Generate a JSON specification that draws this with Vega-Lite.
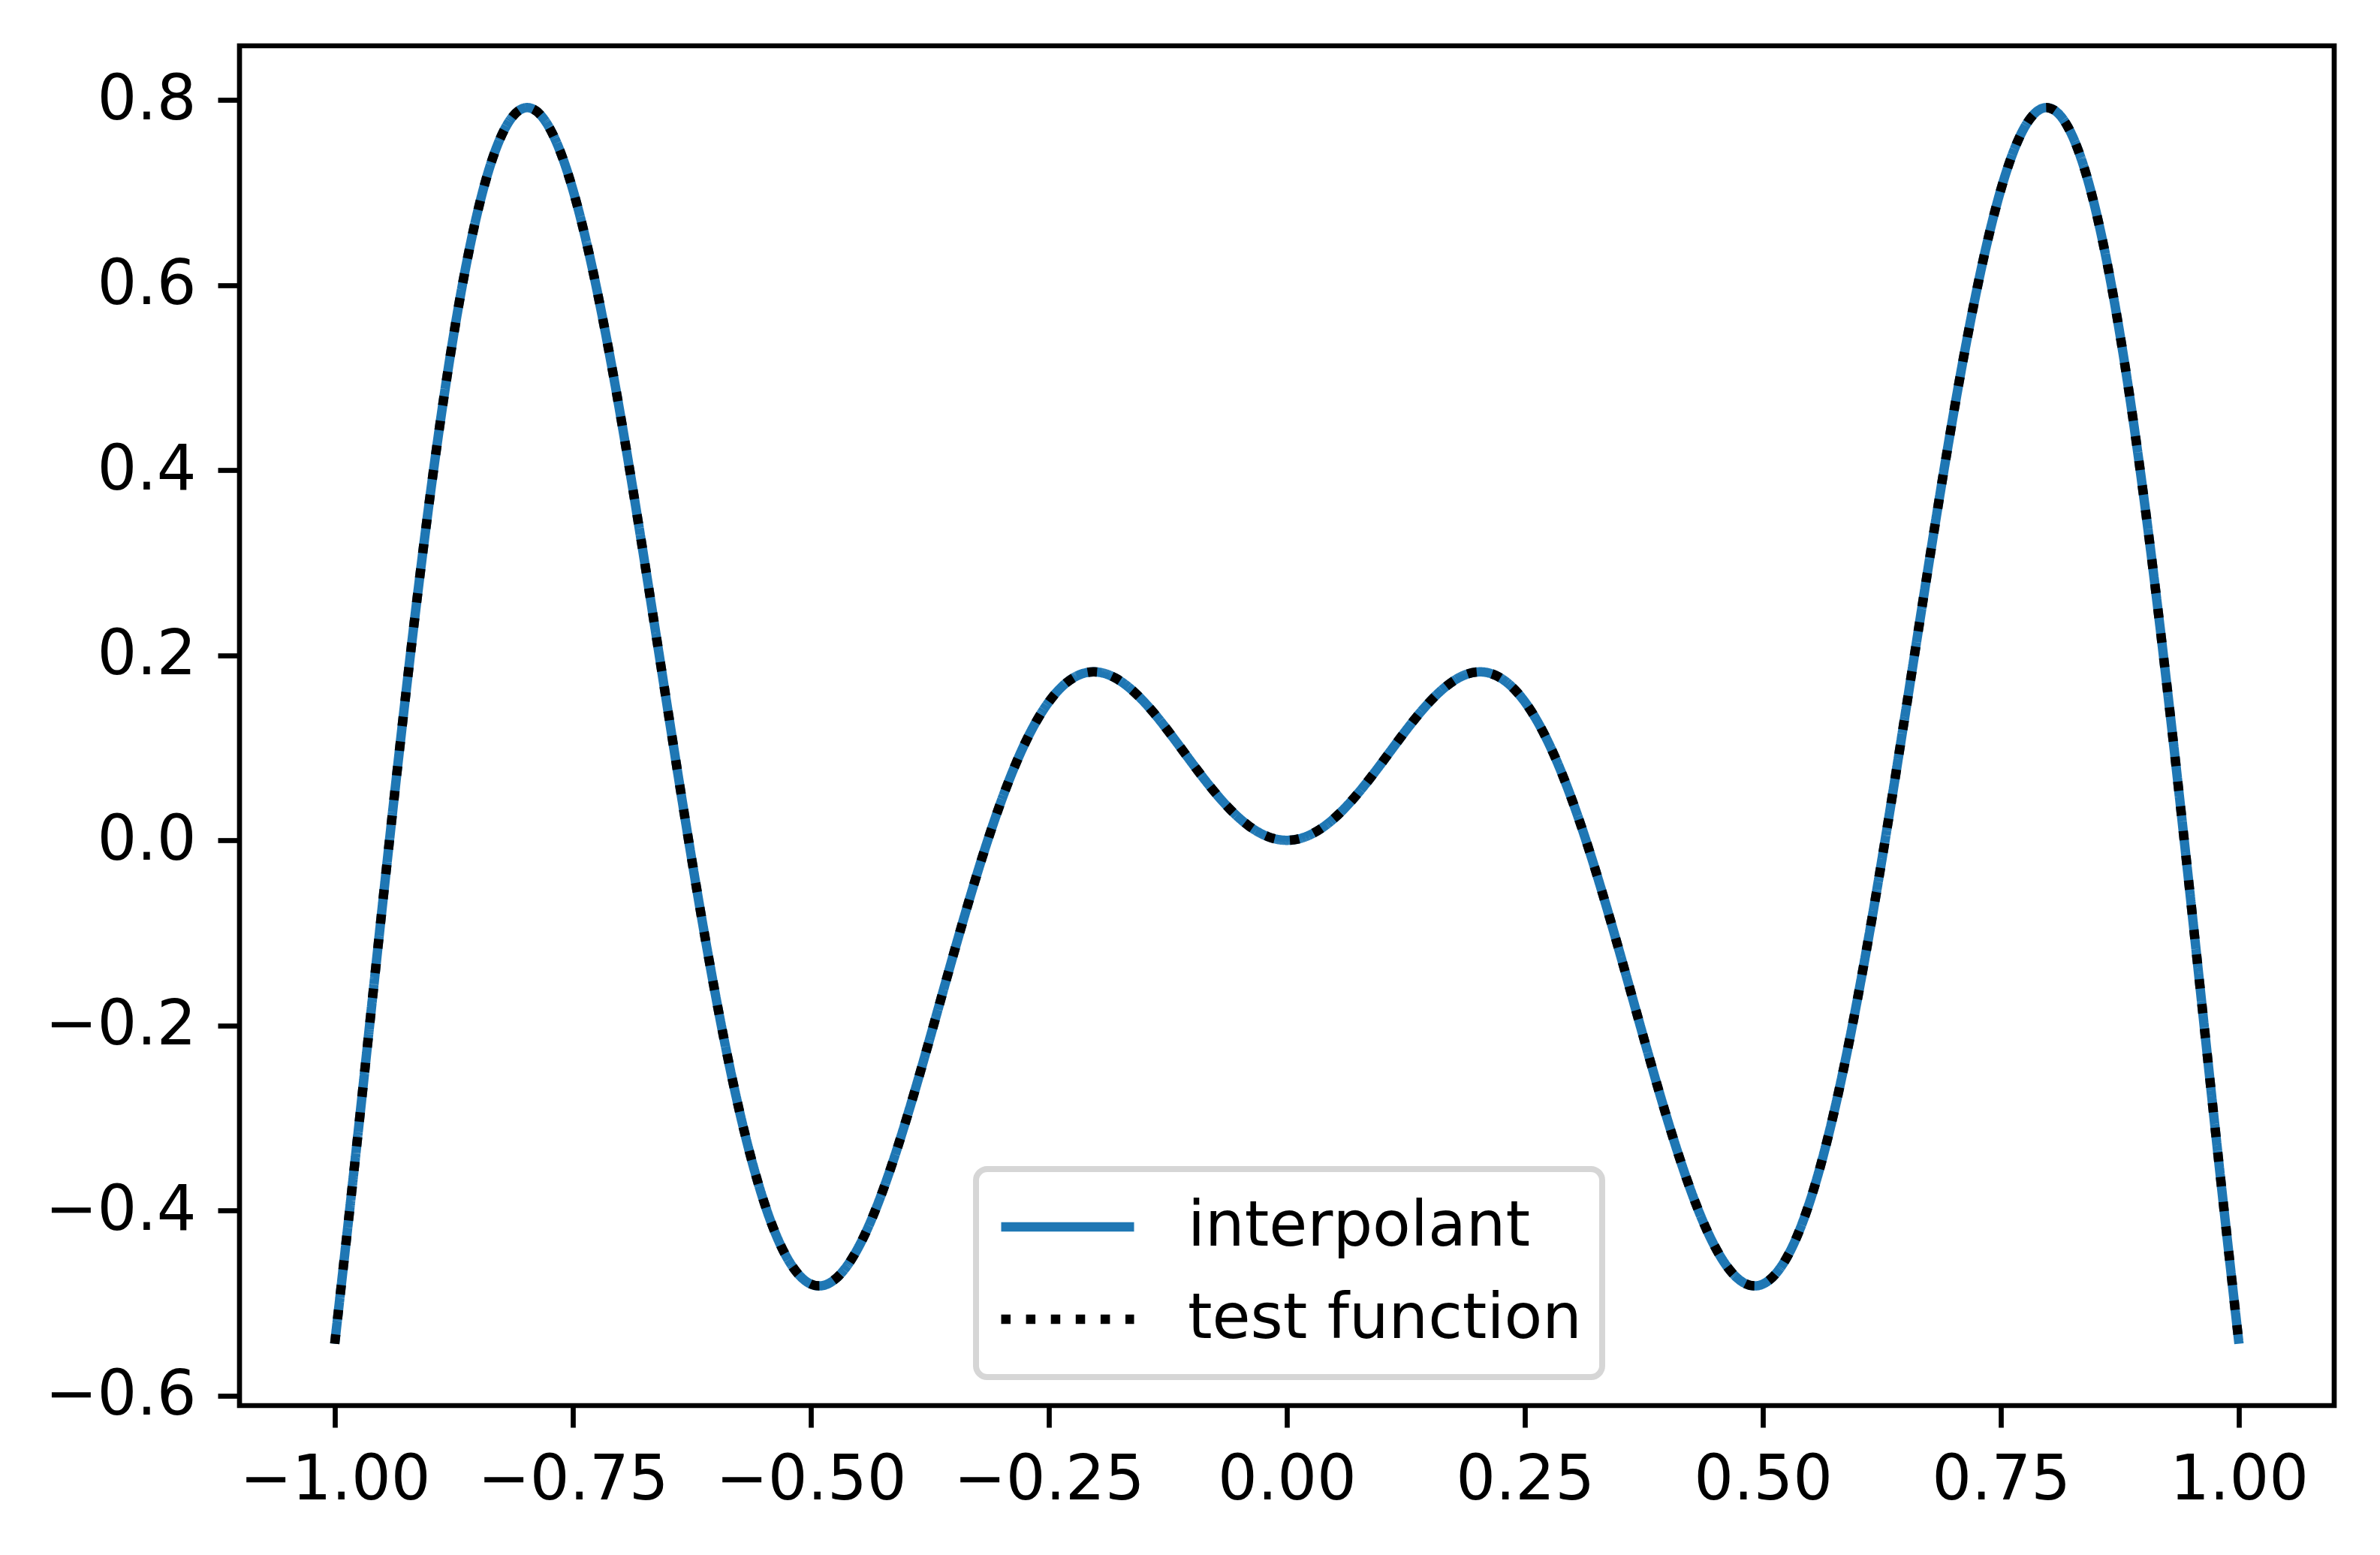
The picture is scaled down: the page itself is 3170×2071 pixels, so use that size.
{
  "$schema": "https://vega.github.io/schema/vega-lite/v6.json",
  "width": 2790,
  "height": 1811,
  "autosize": {"type": "none"},
  "padding": {"left": 319, "top": 61, "right": 61, "bottom": 199},
  "background": "white",
  "config": {
    "view": {"stroke": "black", "strokeWidth": 6.7},
    "font": "DejaVu Sans",
    "axis": {
      "domain": false,
      "grid": false,
      "ticks": true,
      "tickColor": "black",
      "tickWidth": 6.7,
      "tickSize": 29,
      "labelFont": "DejaVu Sans",
      "labelFontSize": 83,
      "labelColor": "black",
      "labelPadding": 29,
      "labelLimit": 0,
      "labelOverlap": false,
      "title": null
    },
    "legend": {
      "strokeWidth": 8,
      "labelLimit": 0
    }
  },
  "datasets": {
    "curve": [
      {"x": -1.00, "y": -0.5440}, {"x": -0.98, "y": -0.3591}, {"x": -0.96, "y": -0.1674}, {"x": -0.94, "y": 0.0233},
      {"x": -0.92, "y": 0.2051}, {"x": -0.90, "y": 0.3709}, {"x": -0.88, "y": 0.5147}, {"x": -0.86, "y": 0.6316},
      {"x": -0.84, "y": 0.7179}, {"x": -0.82, "y": 0.7714}, {"x": -0.80, "y": 0.7915}, {"x": -0.78, "y": 0.7789},
      {"x": -0.76, "y": 0.7356}, {"x": -0.74, "y": 0.6650}, {"x": -0.72, "y": 0.5714}, {"x": -0.70, "y": 0.4599},
      {"x": -0.68, "y": 0.3360}, {"x": -0.66, "y": 0.2056}, {"x": -0.64, "y": 0.0746}, {"x": -0.62, "y": -0.0515},
      {"x": -0.60, "y": -0.1676}, {"x": -0.58, "y": -0.2695}, {"x": -0.56, "y": -0.3535}, {"x": -0.54, "y": -0.4173},
      {"x": -0.52, "y": -0.4594}, {"x": -0.50, "y": -0.4795}, {"x": -0.48, "y": -0.4782}, {"x": -0.46, "y": -0.4571},
      {"x": -0.44, "y": -0.4187}, {"x": -0.42, "y": -0.3661}, {"x": -0.40, "y": -0.3027}, {"x": -0.38, "y": -0.2325},
      {"x": -0.36, "y": -0.1593}, {"x": -0.34, "y": -0.0869}, {"x": -0.32, "y": -0.0187}, {"x": -0.30, "y": 0.0423},
      {"x": -0.28, "y": 0.0938}, {"x": -0.26, "y": 0.1340}, {"x": -0.24, "y": 0.1621}, {"x": -0.22, "y": 0.1779},
      {"x": -0.20, "y": 0.1819}, {"x": -0.18, "y": 0.1753}, {"x": -0.16, "y": 0.1599}, {"x": -0.14, "y": 0.1380},
      {"x": -0.12, "y": 0.1118}, {"x": -0.10, "y": 0.0841}, {"x": -0.08, "y": 0.0574}, {"x": -0.06, "y": 0.0339},
      {"x": -0.04, "y": 0.0156}, {"x": -0.02, "y": 0.0040}, {"x": 0.00, "y": 0.0000},
      {"x": 0.02, "y": 0.0040}, {"x": 0.04, "y": 0.0156}, {"x": 0.06, "y": 0.0339}, {"x": 0.08, "y": 0.0574},
      {"x": 0.10, "y": 0.0841}, {"x": 0.12, "y": 0.1118}, {"x": 0.14, "y": 0.1380}, {"x": 0.16, "y": 0.1599},
      {"x": 0.18, "y": 0.1753}, {"x": 0.20, "y": 0.1819}, {"x": 0.22, "y": 0.1779}, {"x": 0.24, "y": 0.1621},
      {"x": 0.26, "y": 0.1340}, {"x": 0.28, "y": 0.0938}, {"x": 0.30, "y": 0.0423}, {"x": 0.32, "y": -0.0187},
      {"x": 0.34, "y": -0.0869}, {"x": 0.36, "y": -0.1593}, {"x": 0.38, "y": -0.2325}, {"x": 0.40, "y": -0.3027},
      {"x": 0.42, "y": -0.3661}, {"x": 0.44, "y": -0.4187}, {"x": 0.46, "y": -0.4571}, {"x": 0.48, "y": -0.4782},
      {"x": 0.50, "y": -0.4795}, {"x": 0.52, "y": -0.4594}, {"x": 0.54, "y": -0.4173}, {"x": 0.56, "y": -0.3535},
      {"x": 0.58, "y": -0.2695}, {"x": 0.60, "y": -0.1676}, {"x": 0.62, "y": -0.0515}, {"x": 0.64, "y": 0.0746},
      {"x": 0.66, "y": 0.2056}, {"x": 0.68, "y": 0.3360}, {"x": 0.70, "y": 0.4599}, {"x": 0.72, "y": 0.5714},
      {"x": 0.74, "y": 0.6650}, {"x": 0.76, "y": 0.7356}, {"x": 0.78, "y": 0.7789}, {"x": 0.80, "y": 0.7915},
      {"x": 0.82, "y": 0.7714}, {"x": 0.84, "y": 0.7179}, {"x": 0.86, "y": 0.6316}, {"x": 0.88, "y": 0.5147},
      {"x": 0.90, "y": 0.3709}, {"x": 0.92, "y": 0.2051}, {"x": 0.94, "y": 0.0233}, {"x": 0.96, "y": -0.1674},
      {"x": 0.98, "y": -0.3591}, {"x": 1.00, "y": -0.5440}
    ]
  },
  "data": {"name": "curve"},
  "encoding": {
    "x": {
      "field": "x", "type": "quantitative",
      "scale": {"domain": [-1.1, 1.1], "nice": false, "zero": false},
      "axis": {"values": [-1, -0.75, -0.5, -0.25, 0, 0.25, 0.5, 0.75, 1], "format": ".2f"}
    },
    "y": {
      "field": "y", "type": "quantitative",
      "scale": {"domain": [-0.6108, 0.8585], "nice": false, "zero": false},
      "axis": {"values": [-0.6, -0.4, -0.2, 0, 0.2, 0.4, 0.6, 0.8], "format": ".1f"}
    }
  },
  "layer": [
    {
      "mark": {"type": "line", "strokeWidth": 12.5, "interpolate": "natural", "strokeCap": "butt"},
      "encoding": {
        "color": {
          "datum": "interpolant",
          "scale": {"domain": ["interpolant", "test function"], "range": ["#1f77b4", "#000000"]},
          "legend": {
            "title": null,
            "orient": "none",
            "legendX": 981,
            "legendY": 1496,
            "symbolType": "stroke",
            "symbolSize": 31329,
            "symbolStrokeWidth": 12.5,
            "labelFont": "DejaVu Sans",
            "labelFontSize": 83,
            "labelColor": "black",
            "labelOffset": 65,
            "labelLimit": 0,
            "clipHeight": 100,
            "rowPadding": 23,
            "padding": 27,
            "strokeColor": "#d6d6d6",
            "fillColor": "white",
            "cornerRadius": 15
          }
        },
        "strokeDash": {
          "datum": "interpolant",
          "scale": {"domain": ["interpolant", "test function"], "range": [[1, 0], [12.5, 20.6]]},
          "legend": {
            "title": null,
            "orient": "none",
            "legendX": 981,
            "legendY": 1496,
            "symbolType": "stroke",
            "symbolSize": 31329,
            "symbolStrokeWidth": 12.5,
            "labelFont": "DejaVu Sans",
            "labelFontSize": 83,
            "labelColor": "black",
            "labelOffset": 65,
            "labelLimit": 0,
            "clipHeight": 100,
            "rowPadding": 23,
            "padding": 27,
            "strokeColor": "#d6d6d6",
            "fillColor": "white",
            "cornerRadius": 15
          }
        }
      }
    },
    {
      "mark": {"type": "line", "strokeWidth": 12.5, "interpolate": "natural", "strokeCap": "butt"},
      "encoding": {"color": {"datum": "test function"}, "strokeDash": {"datum": "test function"}}
    }
  ]
}
